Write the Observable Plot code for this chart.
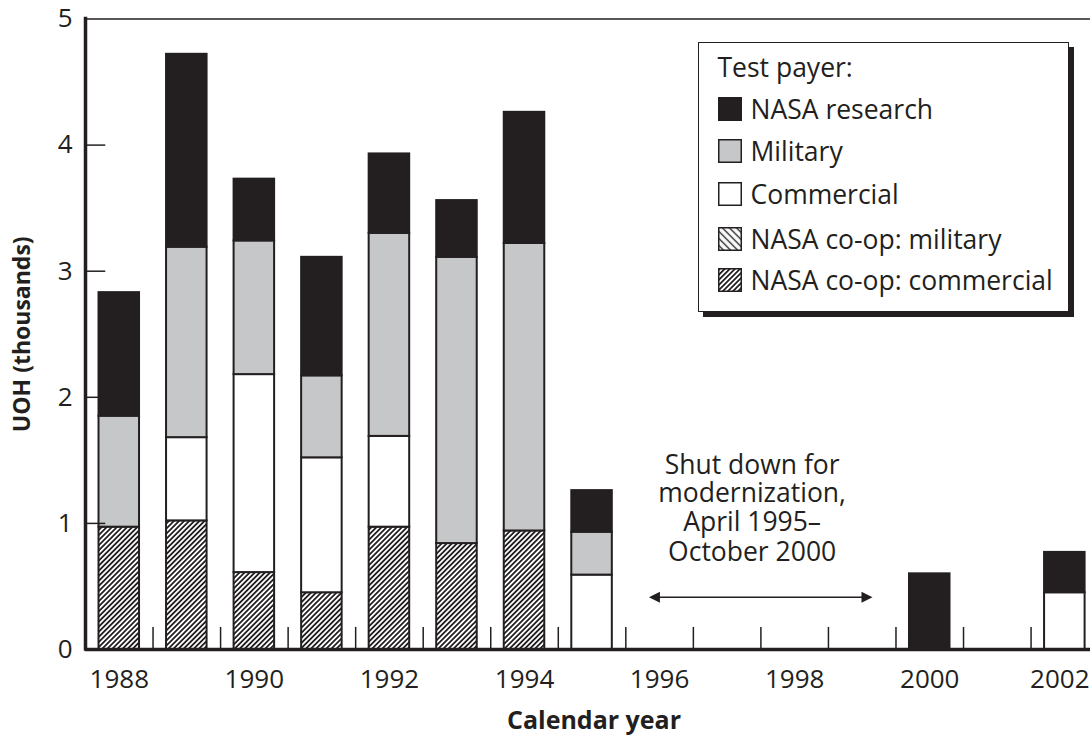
<!DOCTYPE html>
<html>
<head>
<meta charset="utf-8">
<script src="https://cdn.jsdelivr.net/npm/d3@7"></script>
<script src="https://cdn.jsdelivr.net/npm/@observablehq/plot@0.6"></script>
<style>
  body { margin: 0; background: #fff; }
  #wrap { position: relative; width: 1090px; height: 740px; font-family: "Open Sans", sans-serif; color: #231f20; }
  #legend { position: absolute; left: 698px; top: 42px; width: 369px; height: 268px; border: 1.5px solid #231f20;
            box-shadow: 5px 5px 0 #231f20; background: #fff; font-size: 26.5px; }
  #legend .row { position: absolute; left: 18.5px; height: 42px; display: flex; align-items: center; white-space: nowrap; }
  #legend svg { margin-right: 9px; display: block; }
</style>
</head>
<body>
<svg width="0" height="0" style="position:absolute">
  <defs>
    <pattern id="hatchF" patternUnits="userSpaceOnUse" width="3.6" height="3.6" patternTransform="rotate(45)">
      <rect width="3.6" height="3.6" fill="#fff"/>
      <line x1="1.8" y1="0" x2="1.8" y2="3.6" stroke="#231f20" stroke-width="1.8"/>
    </pattern>
    <pattern id="hatchB" patternUnits="userSpaceOnUse" width="5" height="5" patternTransform="rotate(-45)">
      <rect width="5" height="5" fill="#fff"/>
      <line x1="2.5" y1="0" x2="2.5" y2="5" stroke="#231f20" stroke-width="1.4"/>
    </pattern>
  </defs>
</svg>
<div id="wrap"><div id="legend"></div></div>
<script>
// ---- data ----
const years = [1988, 1989, 1990, 1991, 1992, 1993, 1994, 1995, 2000, 2002];
const coopCommercial = [0.97, 1.02, 0.61, 0.45, 0.97, 0.84, 0.94, 0, 0, 0];
const coopMilitary   = [0, 0, 0, 0, 0, 0, 0, 0, 0, 0];
const commercial     = [0, 0.66, 1.57, 1.07, 0.72, 0, 0, 0.59, 0, 0.45];
const military       = [0.88, 1.51, 1.06, 0.65, 1.61, 2.27, 2.28, 0.34, 0, 0];
const nasaResearch   = [0.98, 1.53, 0.49, 0.94, 0.63, 0.45, 1.04, 0.33, 0.60, 0.32];

const payers = ["NASA co-op: commercial", "NASA co-op: military", "Commercial", "Military", "NASA research"];
const payerFills = ["url(#hatchF)", "url(#hatchB)", "#ffffff", "#c6c7c9", "#231f20"];
const legendOrder = ["NASA research", "Military", "Commercial", "NASA co-op: military", "NASA co-op: commercial"];

const yTicks = [0, 1, 2, 3, 4, 5];
const yInnerTicks = [1, 2, 3, 4];
const xTickLabels = [1988, 1990, 1992, 1994, 1996, 1998, 2000];
const xTickLabelsEdge = [2002];
const xInnerTicks = [1988.5, 1989.5, 1990.5, 1991.5, 1992.5, 1993.5, 1994.5, 1995.5, 1996.5, 1997.5, 1998.5, 1999.5, 2000.5, 2001.5];

const noteLines = ["Shut down for", "modernization,", "April 1995–", "October 2000"];
const noteX = 1997.37;
const noteY = [1.46, 1.235, 1.005, 0.77];
const shutdownArrow = [{x1: 1995.85, x2: 1999.16, y: 0.41}];

// ---- table ----
const series = [coopCommercial, coopMilitary, commercial, military, nasaResearch];
const table = [];
years.forEach((yr, i) => {
  series.forEach((vals, j) => {
    if (vals[i] > 0) table.push({year: yr, payer: payers[j], value: vals[i]});
  });
});
const notes = noteLines.map((t, i) => ({text: t, x: noteX, y: noteY[i]}));

const ink = "#231f20";
const halfBar = 0.3;

function arrowRender(index, scales) {
  const x = scales.x, y = scales.y;
  const g = d3.create("svg:g");
  for (const a of shutdownArrow) {
    const xa = x(a.x1), xb = x(a.x2), yy = y(a.y);
    const hl = 11, hw = 5.5;
    g.append("line").attr("x1", xa + hl - 1).attr("x2", xb - hl + 1).attr("y1", yy).attr("y2", yy)
      .attr("stroke", ink).attr("stroke-width", 1.6);
    g.append("path").attr("d", `M${xa},${yy}L${xa + hl},${yy - hw}L${xa + hl},${yy + hw}Z`).attr("fill", ink);
    g.append("path").attr("d", `M${xb},${yy}L${xb - hl},${yy - hw}L${xb - hl},${yy + hw}Z`).attr("fill", ink);
  }
  return g.node();
}

const chart = Plot.plot({
  width: 1090,
  height: 740,
  marginLeft: 85,
  marginRight: 0,
  marginTop: 18.5,
  marginBottom: 91,
  style: {fontFamily: "'Open Sans', sans-serif", fontSize: "26px", color: ink, background: "#fff"},
  x: {type: "linear", domain: [1987.5, 2002.38]},
  y: {domain: [0, 5]},
  color: {type: "ordinal", domain: payers, range: payerFills},
  marks: [
    Plot.ruleY([5], {stroke: ink, strokeWidth: 1.3}),
    Plot.rectY(table, {
      x1: d => d.year - halfBar,
      x2: d => d.year + halfBar,
      y: "value",
      fill: "payer",
      stroke: ink,
      strokeWidth: 2
    }),
    Plot.ruleX(xInnerTicks, {y1: 0, y2: 0.175, stroke: ink, strokeWidth: 1.5}),
    Plot.ruleY(yInnerTicks, {x1: 1987.5, x2: 1987.8, stroke: ink, strokeWidth: 1.5}),
    Plot.ruleX([1987.5], {y1: 0, y2: 5, stroke: ink, strokeWidth: 3.5, strokeLinecap: "square"}),
    Plot.ruleY([0], {stroke: ink, strokeWidth: 3.5}),
    Plot.axisY({ticks: yTicks, tickSize: 0, tickPadding: 13, label: null, tickFormat: d => `${d}`}),
    Plot.axisX({ticks: xTickLabels, tickSize: 0, tickPadding: 20, label: null, tickFormat: d => `${d}`}),
    Plot.axisX({ticks: xTickLabelsEdge, tickSize: 0, tickPadding: 20, label: null, tickFormat: d => `${d}`, dx: -5}),
    Plot.text(notes, {x: "x", y: "y", text: "text", fontSize: 26.5, fill: ink, textAnchor: "middle", lineAnchor: "middle"}),
    arrowRender,
    Plot.text(["UOH (thousands)"], {text: d => d, frameAnchor: "left", rotate: -90, dx: -63, textAnchor: "middle", lineAnchor: "middle", fontWeight: "bold", fontSize: 23, fill: ink}),
    Plot.text(["Calendar year"], {text: d => d, frameAnchor: "bottom", dy: 71, dx: 6, textAnchor: "middle", lineAnchor: "middle", fontWeight: "bold", fontSize: 25, fill: ink})
  ]
});
document.getElementById("wrap").prepend(chart);

// ---- legend ----
const legend = document.getElementById("legend");
const rowCenters = [24, 66, 108, 150.5, 196, 237];
const title = document.createElement("div");
title.className = "row";
title.style.top = (rowCenters[0] - 21) + "px";
title.textContent = "Test payer:";
legend.appendChild(title);
legendOrder.forEach((name, i) => {
  const row = document.createElement("div");
  row.className = "row";
  row.style.top = (rowCenters[i + 1] - 21) + "px";
  const fill = payerFills[payers.indexOf(name)];
  row.innerHTML = `<svg width="24" height="24"><rect x="0.75" y="0.75" width="22.5" height="22.5" fill="${fill}" stroke="${ink}" stroke-width="1.5"/></svg><span>${name}</span>`;
  legend.appendChild(row);
});
</script>
</body>
</html>
